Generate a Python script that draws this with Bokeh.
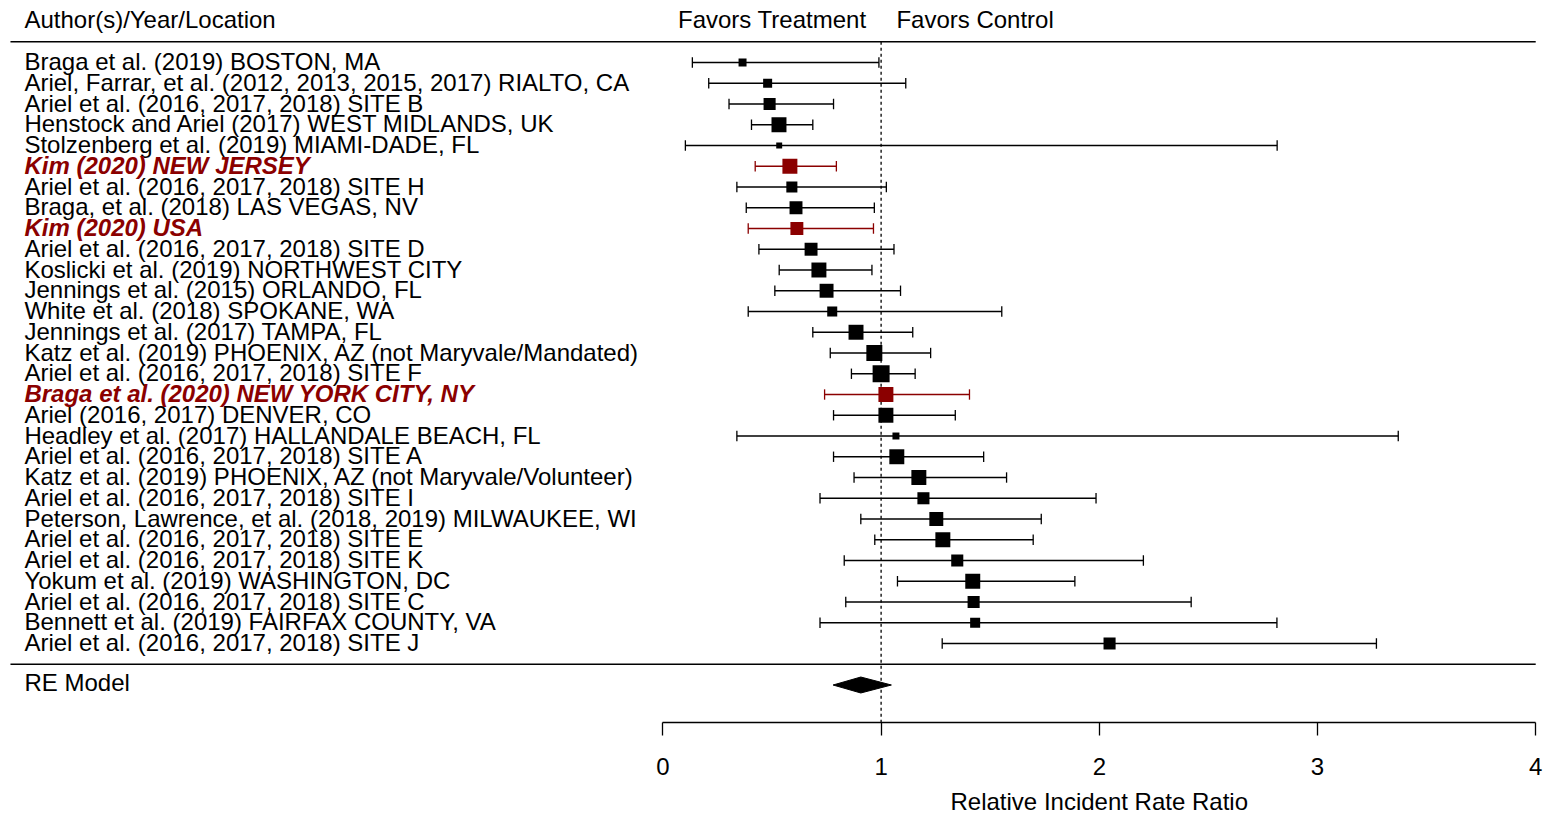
from bokeh.plotting import figure
from bokeh.models import Range1d, LinearAxis, FixedTicker, ColumnDataSource, Title
from bokeh.core.properties import value
from bokeh.embed import file_html
from bokeh.resources import INLINE

# ---------------- data ----------------
labels = [
    "Braga et al. (2019) BOSTON, MA",
    "Ariel, Farrar, et al. (2012, 2013, 2015, 2017) RIALTO, CA",
    "Ariel et al. (2016, 2017, 2018) SITE B",
    "Henstock and Ariel (2017) WEST MIDLANDS, UK",
    "Stolzenberg et al. (2019) MIAMI-DADE, FL",
    "Kim (2020) NEW JERSEY",
    "Ariel et al. (2016, 2017, 2018) SITE H",
    "Braga, et al. (2018) LAS VEGAS, NV",
    "Kim (2020) USA",
    "Ariel et al. (2016, 2017, 2018) SITE D",
    "Koslicki et al. (2019) NORTHWEST CITY",
    "Jennings et al. (2015) ORLANDO, FL",
    "White et al. (2018) SPOKANE, WA",
    "Jennings et al. (2017) TAMPA, FL",
    "Katz et al. (2019) PHOENIX, AZ (not Maryvale/Mandated)",
    "Ariel et al. (2016, 2017, 2018) SITE F",
    "Braga et al. (2020) NEW YORK CITY, NY",
    "Ariel (2016, 2017) DENVER, CO",
    "Headley et al. (2017) HALLANDALE BEACH, FL",
    "Ariel et al. (2016, 2017, 2018) SITE A",
    "Katz et al. (2019) PHOENIX, AZ (not Maryvale/Volunteer)",
    "Ariel et al. (2016, 2017, 2018) SITE I",
    "Peterson, Lawrence, et al. (2018, 2019) MILWAUKEE, WI",
    "Ariel et al. (2016, 2017, 2018) SITE E",
    "Ariel et al. (2016, 2017, 2018) SITE K",
    "Yokum et al. (2019) WASHINGTON, DC",
    "Ariel et al. (2016, 2017, 2018) SITE C",
    "Bennett et al. (2019) FAIRFAX COUNTY, VA",
    "Ariel et al. (2016, 2017, 2018) SITE J",
]
est = [0.365, 0.48, 0.489, 0.532, 0.533, 0.582, 0.591, 0.61, 0.614, 0.679,
       0.715, 0.75, 0.776, 0.885, 0.969, 1.0, 1.022, 1.022, 1.068, 1.072,
       1.173, 1.194, 1.253, 1.283, 1.349, 1.42, 1.424, 1.431, 2.047]
lower = [0.135, 0.21, 0.303, 0.406, 0.103, 0.423, 0.339, 0.382, 0.391, 0.44,
         0.533, 0.513, 0.391, 0.687, 0.767, 0.864, 0.741, 0.782, 0.339, 0.782,
         0.876, 0.72, 0.907, 0.971, 0.831, 1.075, 0.838, 0.72, 1.28]
upper = [0.99, 1.113, 0.782, 0.687, 2.815, 0.795, 1.024, 0.969, 0.965, 1.059,
         0.958, 1.089, 1.553, 1.145, 1.227, 1.156, 1.405, 1.34, 3.37, 1.47,
         1.575, 1.985, 1.734, 1.697, 2.202, 1.888, 2.421, 2.814, 3.27]
weights = [0.47, 0.53, 0.71, 0.88, 0.35, 0.88, 0.65, 0.76, 0.76, 0.76,
           0.88, 0.82, 0.59, 0.88, 0.94, 1.0, 0.88, 0.88, 0.41, 0.88,
           0.88, 0.71, 0.82, 0.88, 0.71, 0.88, 0.71, 0.59, 0.71]
highlighted = ["Kim (2020) NEW JERSEY", "Kim (2020) USA",
               "Braga et al. (2020) NEW YORK CITY, NY"]
re_label = "RE Model"
re_est, re_lower, re_upper = 0.907, 0.78, 1.047
x_ticks = [0, 1, 2, 3, 4]
header_text = "Author(s)/Year/Location"
favors_treatment = "Favors Treatment"
favors_control = "Favors Control"
x_title = "Relative Incident Rate Ratio"

# ---------------- layout helpers ----------------
FONT_NAME = "Liberation Sans"
FONT = value(FONT_NAME)
FS = "24px"
BLACK = "#000000"
RED = "#8B0000"
MAX_SQ = 17
CAP = 0.25
LW = 1.3
TEXT_X = -2.926
LINE_X0, LINE_X1 = -2.99, 4.0

k = len(labels)
rows = list(range(k, 0, -1))

def make_src(idx):
    return ColumnDataSource(dict(
        label=[labels[i] for i in idx],
        y=[rows[i] for i in idx],
        est=[est[i] for i in idx],
        lo=[lower[i] for i in idx],
        hi=[upper[i] for i in idx],
        size=[MAX_SQ * weights[i] for i in idx],
        ylo=[rows[i] - CAP for i in idx],
        yhi=[rows[i] + CAP for i in idx],
    ))

norm_idx = [i for i, l in enumerate(labels) if l not in highlighted]
hi_idx = [i for i, l in enumerate(labels) if l in highlighted]
src_n = make_src(norm_idx)
src_h = make_src(hi_idx)

y0, y1 = -2.807, 31.988
p = figure(width=1547, height=822,
           x_range=Range1d(-3.0357, 4.054), y_range=Range1d(y0, y1),
           output_backend="svg", toolbar_location=None,
           x_axis_type=None, y_axis_type=None,
           min_border_left=0, min_border_right=0, min_border_top=0,
           min_border_bottom=100)
p.outline_line_color = None
p.grid.visible = False
p.background_fill_color = "white"
p.border_fill_color = "white"

# bottom axis (0..4)
ax = LinearAxis(bounds=(0, 4), ticker=FixedTicker(ticks=x_ticks))
ax.major_tick_out = 13
ax.major_tick_in = 0
ax.minor_tick_out = 0
ax.minor_tick_in = 0
ax.axis_line_color = BLACK
ax.major_tick_line_color = BLACK
ax.axis_line_width = 1.3
ax.major_tick_line_width = 1.3
ax.major_label_standoff = 22
ax.major_label_text_font = FONT_NAME
ax.major_label_text_font_size = FS
ax.major_label_text_color = BLACK
p.add_layout(ax, "below")

# x-axis title, centred under x = 2
xt = Title(text=x_title, align="left", offset=950, standoff=16,
           text_font=FONT_NAME, text_font_size=FS, text_font_style="normal",
           text_color=BLACK)
p.add_layout(xt, "below")

# horizontal separators
p.segment(x0=[LINE_X0, LINE_X0], y0=[k + 1, 0], x1=[LINE_X1, LINE_X1], y1=[k + 1, 0],
          line_color=BLACK, line_width=1.6)
# reference line at 1
p.segment(x0=[1], y0=[k + 1], x1=[1], y1=[y0], line_color=BLACK,
          line_width=1.3, line_dash="3 3")

for src, col in ((src_n, BLACK), (src_h, RED)):
    p.segment(x0="lo", y0="y", x1="hi", y1="y", source=src, line_color=col, line_width=LW)
    p.segment(x0="lo", y0="ylo", x1="lo", y1="yhi", source=src, line_color=col, line_width=LW)
    p.segment(x0="hi", y0="ylo", x1="hi", y1="yhi", source=src, line_color=col, line_width=LW)
    p.scatter(x="est", y="y", size="size", marker="square", source=src,
              fill_color=col, line_color=col, line_width=0)

p.text(x=TEXT_X, y="y", text="label", source=src_n, text_font=FONT, text_font_size=FS,
       text_color=BLACK, text_align="left", text_baseline="middle", y_offset=-1)
p.text(x=TEXT_X, y="y", text="label", source=src_h, text_font=FONT, text_font_size=FS,
       text_color=RED, text_font_style="bold italic", text_align="left",
       text_baseline="middle", y_offset=-1)

# summary diamond
dh = 0.385
p.patch(x=[re_lower, re_est, re_upper, re_est], y=[-1, -1 + dh, -1, -1 - dh],
        fill_color=BLACK, line_color=BLACK)
p.text(x=[TEXT_X], y=[-1], text=[re_label], text_font=FONT, text_font_size=FS,
       text_color=BLACK, text_align="left", text_baseline="middle", y_offset=-3)

# headers
for tx, t, al in ((TEXT_X, header_text, "left"), (0.933, favors_treatment, "right"),
                  (1.07, favors_control, "left")):
    p.text(x=[tx], y=[k + 2], text=[t], text_font=FONT, text_font_size=FS,
           text_color=BLACK, text_align=al, text_baseline="middle", y_offset=-2)

open("out.html", "w").write(file_html(p, INLINE))
